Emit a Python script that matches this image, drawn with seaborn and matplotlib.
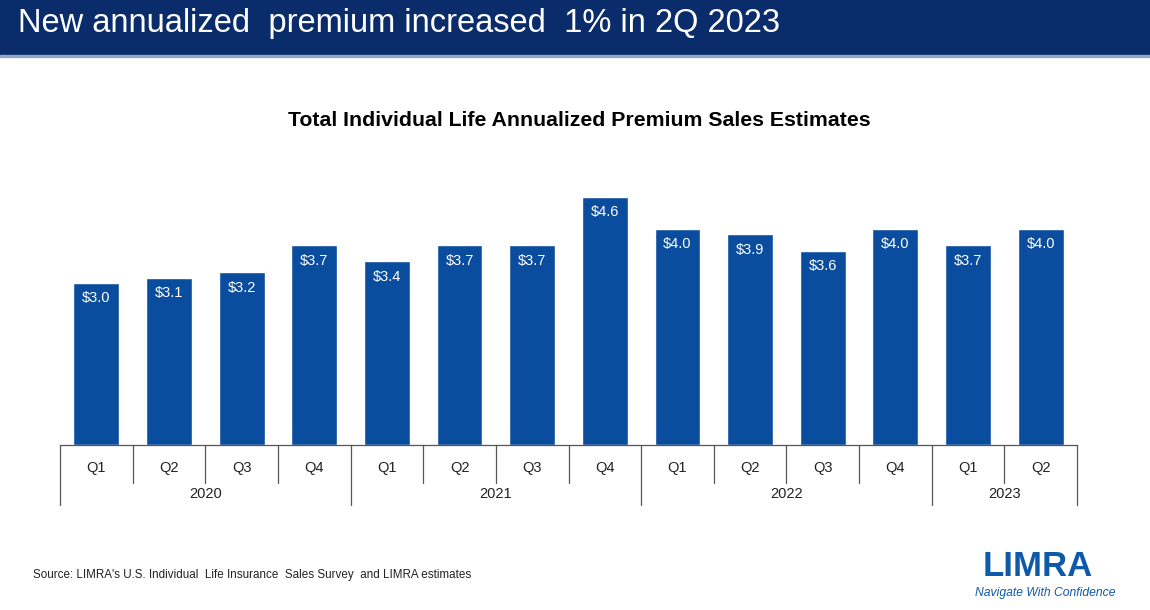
import matplotlib.pyplot as plt
import matplotlib.transforms as mtransforms
from matplotlib.patches import Rectangle
import seaborn as sns
import pandas as pd

years = ["2020", "2021", "2022", "2023"]
quarters_per_year = [["Q1", "Q2", "Q3", "Q4"], ["Q1", "Q2", "Q3", "Q4"],
                     ["Q1", "Q2", "Q3", "Q4"], ["Q1", "Q2"]]
premium = [3.0, 3.1, 3.2, 3.7, 3.4, 3.7, 3.7, 4.6, 4.0, 3.9, 3.6, 4.0, 3.7, 4.0]

rows = []
for y, qs in zip(years, quarters_per_year):
    for q in qs:
        rows.append({"year": y, "quarter": q, "period": f"{y} {q}"})
df = pd.DataFrame(rows)
df["premium"] = premium

sns.set_theme(style="white")
plt.rcParams["font.family"] = ["Liberation Sans", "DejaVu Sans"]

bar_color = "#0A4D9E"
navy = "#0B2C6B"

fig = plt.figure(figsize=(11.5, 6.1), dpi=100)
ax = fig.add_axes([0.0522, 0.2705, 0.8843, 0.4426])

sns.barplot(data=df, x="period", y="premium", color=bar_color, width=0.63,
            saturation=1, ax=ax)
ax.set_ylim(0, 5)
ax.set_xlim(-0.5, len(df) - 0.5)
ax.set_xlabel("")
ax.set_ylabel("")
ax.set_xticks([])
ax.set_yticks([])
for s in ["top", "right", "left"]:
    ax.spines[s].set_visible(False)
ax.spines["bottom"].set_color("#555555")
ax.spines["bottom"].set_linewidth(0.9)

# value labels inside bars
for i, v in enumerate(df["premium"]):
    ax.annotate(f"${v:.1f}", (i, v), xytext=(0, -6), textcoords="offset points",
                ha="center", va="top", color="white", fontsize=10.5)

# category axis below the chart
trans = mtransforms.blended_transform_factory(ax.transData, fig.transFigure)
y_base, y_q, y_year = 0.2705, 0.208, 0.172
boundaries = [0]
for qs in quarters_per_year:
    boundaries.append(boundaries[-1] + len(qs))
for i in range(len(df) + 1):
    bottom = y_year if i in boundaries else y_q
    ax.plot([i - 0.5, i - 0.5], [y_base, bottom], transform=trans,
            color="#555555", lw=0.9, clip_on=False)
for i, q in enumerate(df["quarter"]):
    ax.text(i, 0.233, q, transform=trans, ha="center", va="center",
            fontsize=10.5, color="#222222")
for j, y in enumerate(years):
    mid = (boundaries[j] + boundaries[j + 1]) / 2 - 0.5
    ax.text(mid, 0.19, y, transform=trans, ha="center", va="center",
            fontsize=10.5, color="#222222")

# header band
fig.patches.append(Rectangle((0, 0.91), 1, 0.09, transform=fig.transFigure,
                             color=navy, zorder=0))
fig.patches.append(Rectangle((0, 0.907), 1, 0.003, transform=fig.transFigure,
                             color="#8FA8C8", zorder=0))
fig.text(0.016, 0.962, "New annualized  premium increased  1% in 2Q 2023",
         color="white", fontsize=23.5, ha="left", va="center")

fig.text(0.504, 0.803, "Total Individual Life Annualized Premium Sales Estimates",
         ha="center", va="center", fontsize=15.3, fontweight="bold", color="black")

fig.text(0.029, 0.058, "Source: LIMRA's U.S. Individual  Life Insurance  Sales Survey  and LIMRA estimates",
         ha="left", va="center", fontsize=8.4, color="#222222")

# logo text
fig.text(0.902, 0.071, "LIMRA", ha="center", va="center", fontsize=25,
         fontweight="heavy", color="#0F5AA8", stretch="condensed")
fig.text(0.909, 0.028, "Navigate With Confidence", ha="center", va="center",
         fontsize=8.7, style="italic", color="#0F5AA8")

fig.savefig("out.png", dpi=100)
